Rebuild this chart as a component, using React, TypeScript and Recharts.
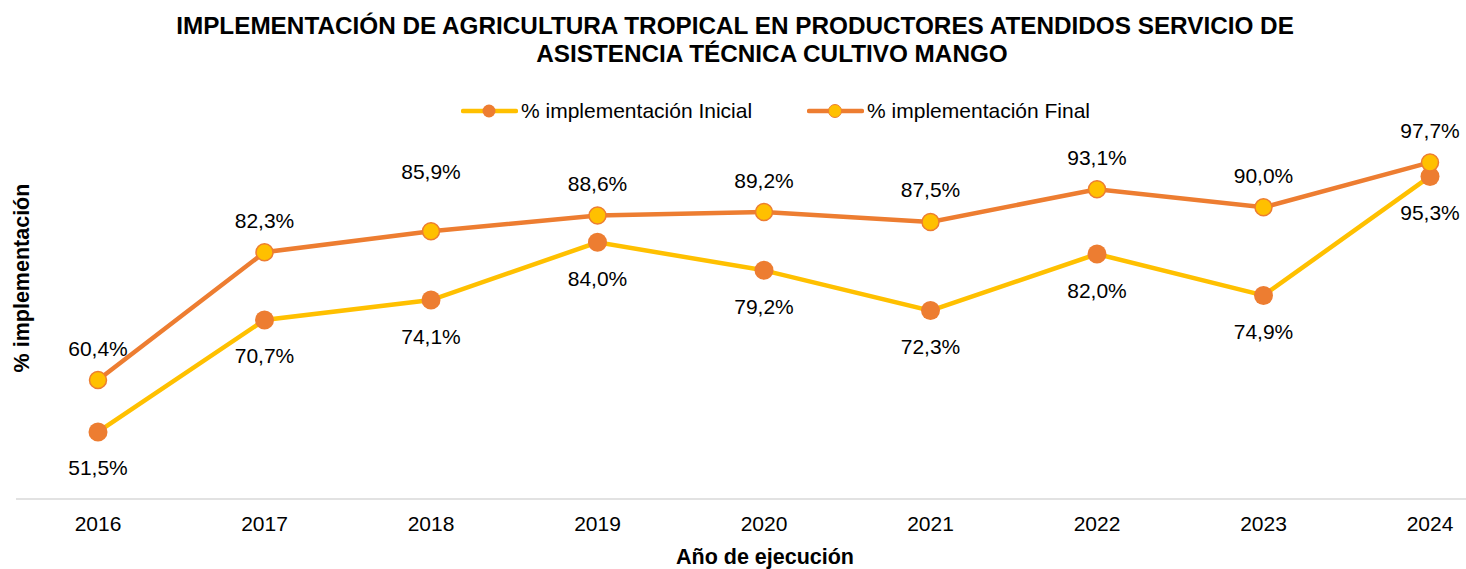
import React from "react";
import { LineChart, Line, XAxis, YAxis, LabelList } from "recharts";

const years = ["2016", "2017", "2018", "2019", "2020", "2021", "2022", "2023", "2024"];
const inicial = [51.5, 70.7, 74.1, 84.0, 79.2, 72.3, 82.0, 74.9, 95.3];
const final = [60.4, 82.3, 85.9, 88.6, 89.2, 87.5, 93.1, 90.0, 97.7];

const data = years.map((year, i) => ({ year, inicial: inicial[i], final: final[i] }));

const ORANGE = "#ED7D31";
const YELLOW = "#FFC000";
const FONT = "'Liberation Sans', Arial, sans-serif";

const fmt = (v: number) => v.toFixed(1).replace(".", ",") + "%";

// the 2018 final label sits higher in the original
const raisedFinalLabel = years.indexOf("2018");

function makeLabel(dy: number, series: "inicial" | "final") {
  return (props: any) => {
    const { x, y, value, index } = props;
    let off = dy;
    if (series === "final" && index === raisedFinalLabel) off = -60;
    return (
      <text
        x={x}
        y={y + off}
        textAnchor="middle"
        dominantBaseline="central"
        fontSize={21}
        fontFamily={FONT}
        fill="#000"
      >
        {fmt(value)}
      </text>
    );
  };
}

function LegendItem({ line, dot, dotStroke, label }: { line: string; dot: string; dotStroke?: string; label: string }) {
  return (
    <div style={{ display: "flex", alignItems: "center", gap: 3 }}>
      <svg width={57} height={16}>
        <line x1={2} y1={8} x2={55} y2={8} stroke={line} strokeWidth={4.5} strokeLinecap="round" />
        <circle cx={28} cy={8} r={6.5} fill={dot} stroke={dotStroke ?? "none"} strokeWidth={1} />
      </svg>
      <span>{label}</span>
    </div>
  );
}

export default function App() {
  return (
    <div style={{ position: "absolute", left: 0, top: 0, width: 1466, height: 569, background: "#fff", fontFamily: FONT, color: "#000" }}>
      <div style={{ position: "absolute", top: 12, left: 0, width: 1470, textAlign: "center", fontSize: 24.3, fontWeight: "bold", whiteSpace: "nowrap" }}>
        IMPLEMENTACIÓN DE AGRICULTURA TROPICAL EN PRODUCTORES ATENDIDOS SERVICIO DE
      </div>
      <div style={{ position: "absolute", top: 40, left: 0, width: 1544, textAlign: "center", fontSize: 24.3, fontWeight: "bold", whiteSpace: "nowrap" }}>
        ASISTENCIA TÉCNICA CULTIVO MANGO
      </div>
      <div style={{ position: "absolute", top: 98, left: 461, display: "flex", alignItems: "center", gap: 55, fontSize: 21, lineHeight: "26px" }}>
        <LegendItem line={YELLOW} dot={ORANGE} label="% implementación Inicial" />
        <LegendItem line={ORANGE} dot={YELLOW} dotStroke={ORANGE} label="% implementación Final" />
      </div>
      <div
        style={{
          position: "absolute",
          left: 22,
          top: 278,
          transform: "translate(-50%, -50%) rotate(-90deg)",
          fontSize: 21.5,
          fontWeight: "bold",
          whiteSpace: "nowrap",
        }}
      >
        % implementación
      </div>
      <div style={{ position: "absolute", left: 765, top: 557, transform: "translate(-50%, -50%)", fontSize: 21.5, fontWeight: "bold", whiteSpace: "nowrap" }}>
        Año de ejecución
      </div>
      <LineChart width={1466} height={569} data={data} margin={{ top: 149, right: 0, bottom: 40, left: 16 }} style={{ position: "absolute", left: 0, top: 0 }}>
        <XAxis
          dataKey="year"
          height={30}
          padding={{ left: 82, right: 36 }}
          tickLine={false}
          axisLine={{ stroke: "#D9D9D9", strokeWidth: 1.5 }}
          tick={{ fontSize: 21, fill: "#000", fontFamily: FONT }}
          tickMargin={11}
        />
        <YAxis hide width={0} domain={[40, 100]} />
        <Line
          dataKey="inicial"
          stroke={YELLOW}
          strokeWidth={4.5}
          dot={{ r: 9.5, fill: ORANGE, stroke: ORANGE, strokeWidth: 0 }}
          activeDot={false}
          isAnimationActive={false}
        >
          <LabelList dataKey="inicial" content={makeLabel(36, "inicial")} />
        </Line>
        <Line
          dataKey="final"
          stroke={ORANGE}
          strokeWidth={4.5}
          dot={{ r: 8.5, fill: YELLOW, stroke: ORANGE, strokeWidth: 1.5 }}
          activeDot={false}
          isAnimationActive={false}
        >
          <LabelList dataKey="final" content={makeLabel(-32, "final")} />
        </Line>
      </LineChart>
    </div>
  );
}
